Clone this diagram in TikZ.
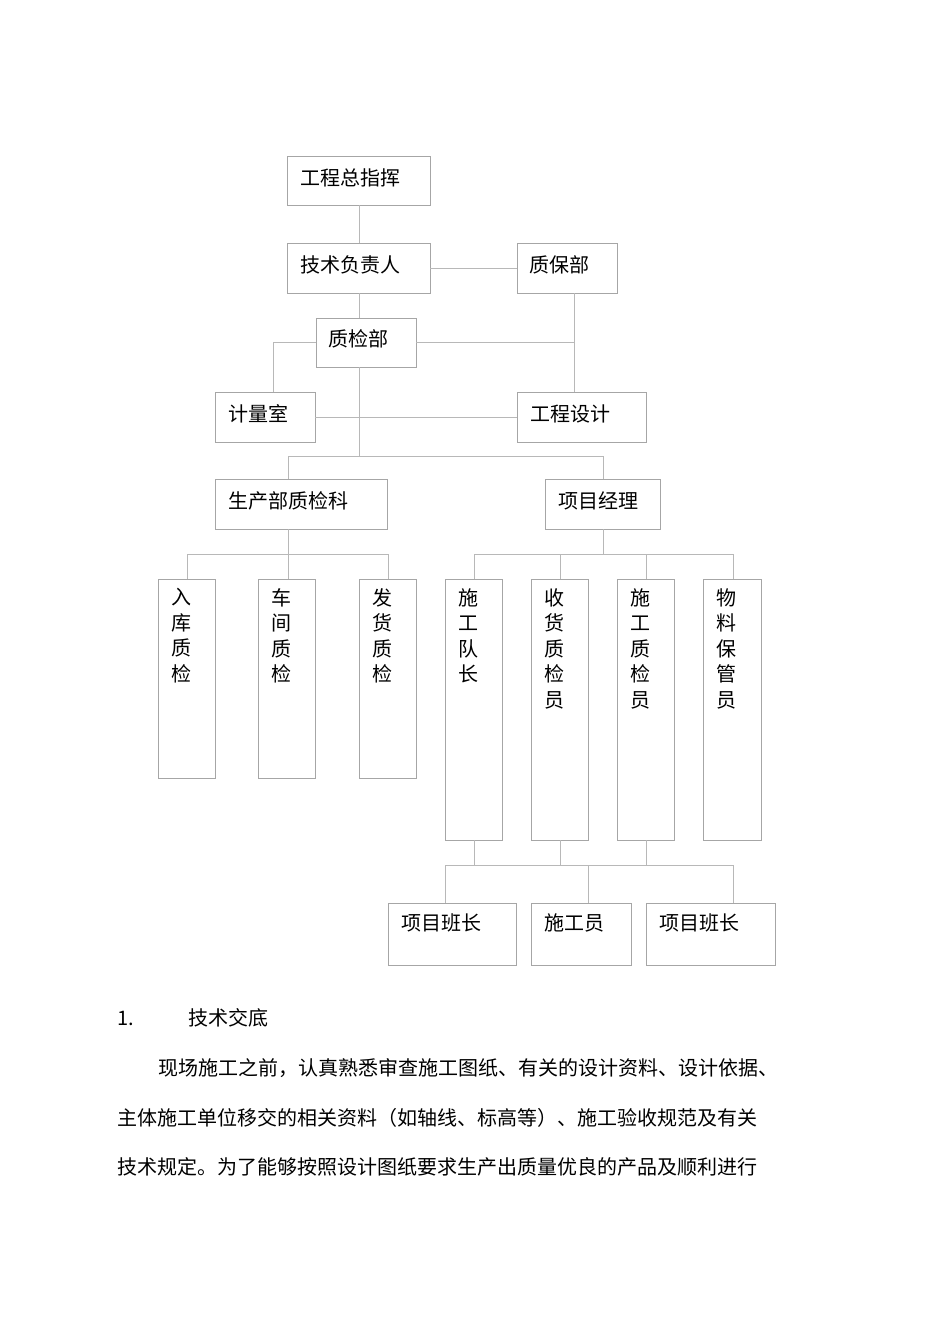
\documentclass[tikz,border=0pt]{standalone}
\usepackage{fontspec}
\newfontfamily\cjk{Noto Sans CJK SC}
\tikzset{
 bx/.style={draw=black!35, line width=0.8pt},
 ln/.style={draw=black!28, line width=0.8pt},
 tx/.style={anchor=west, inner sep=0pt, font=\cjk\fontsize{20}{24}\selectfont},
 vt/.style={anchor=north, inner sep=0pt, align=center, font=\cjk\fontsize{20}{25.5}\selectfont},
}
\begin{document}
\begin{tikzpicture}[x=1pt,y=-1pt]
\useasboundingbox (0,0) rectangle (950,1344);
% boxes
\draw[bx] (287,156) rectangle (430,205); \node[tx] (a) at (300,178) {工程总指挥};
\draw[bx] (287,243) rectangle (430,293); \node[tx] (b) at (300,265) {技术负责人};
\draw[bx] (517,243) rectangle (617,293); \node[tx] (c) at (529,265) {质保部};
\draw[bx] (316,318) rectangle (416,367); \node[tx] (d) at (328,339) {质检部};
\draw[bx] (215,392) rectangle (315,442); \node[tx] (e) at (228,414) {计量室};
\draw[bx] (517,392) rectangle (646,442); \node[tx] (f) at (530,414) {工程设计};
\draw[bx] (215,479) rectangle (387,529); \node[tx] (g) at (228,501) {生产部质检科};
\draw[bx] (545,479) rectangle (660,529); \node[tx] (h) at (558,501) {项目经理};
\draw[bx] (158,579) rectangle (215,778); \node[vt] (v1) at (181,588) {入\\库\\质\\检};
\draw[bx] (258,579) rectangle (315,778); \node[vt] (v2) at (281,588) {车\\间\\质\\检};
\draw[bx] (359,579) rectangle (416,778); \node[vt] (v3) at (382,588) {发\\货\\质\\检};
\draw[bx] (445,579) rectangle (502,840); \node[vt] (w1) at (468,588) {施\\工\\队\\长};
\draw[bx] (531,579) rectangle (588,840); \node[vt] (w2) at (554,588) {收\\货\\质\\检\\员};
\draw[bx] (617,579) rectangle (674,840); \node[vt] (w3) at (640,588) {施\\工\\质\\检\\员};
\draw[bx] (703,579) rectangle (761,840); \node[vt] (w4) at (726,588) {物\\料\\保\\管\\员};
\draw[bx] (388,903) rectangle (516,965); \node[tx] (p1) at (401,923) {项目班长};
\draw[bx] (531,903) rectangle (631,965); \node[tx] (p2) at (544,923) {施工员};
\draw[bx] (646,903) rectangle (775,965); \node[tx] (p3) at (659,923) {项目班长};
% connectors
\draw[ln] (359,205) -- (359,243);
\draw[ln] (430,268) -- (517,268);
\draw[ln] (359,293) -- (359,318);
\draw[ln] (316,342) -- (273,342) -- (273,392);
\draw[ln] (416,342) -- (574,342);
\draw[ln] (574,293) -- (574,392);
\draw[ln] (315,417) -- (517,417);
\draw[ln] (359,367) -- (359,456);
\draw[ln] (288,479) -- (288,456) -- (603,456) -- (603,479);
\draw[ln] (288,529) -- (288,579);
\draw[ln] (187,579) -- (187,554) -- (388,554) -- (388,579);
\draw[ln] (603,529) -- (603,554);
\draw[ln] (474,579) -- (474,554) -- (733,554) -- (733,579);
\draw[ln] (560,554) -- (560,579);
\draw[ln] (646,554) -- (646,579);
\draw[ln] (474,840) -- (474,865);
\draw[ln] (560,840) -- (560,865);
\draw[ln] (646,840) -- (646,865);
\draw[ln] (445,903) -- (445,865) -- (733,865) -- (733,903);
\draw[ln] (588,865) -- (588,903);
% text
\node[tx] (n1) at (117,1018) {1.};
\node[tx] (n2) at (188,1018) {技术交底};
\node[tx] (l1) at (158,1068) {现场施工之前，认真熟悉审查施工图纸、有关的设计资料、设计依据、};
\node[tx] (l2) at (117,1118) {主体施工单位移交的相关资料（如轴线、标高等）、施工验收规范及有关};
\node[tx] (l3) at (117,1167) {技术规定。为了能够按照设计图纸要求生产出质量优良的产品及顺利进行};
\end{tikzpicture}
\end{document}
